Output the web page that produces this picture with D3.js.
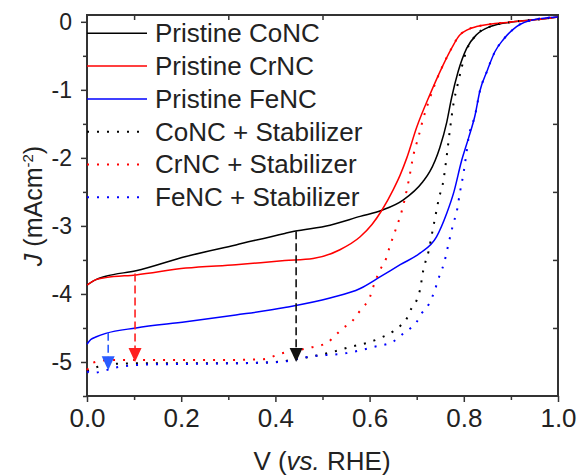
<!DOCTYPE html>
<html>
<head>
<meta charset="utf-8">
<script src="https://cdn.jsdelivr.net/npm/d3@7"></script>
<style>
  body { margin: 0; background: #fff; }
  svg text { font-family: "Liberation Sans", Arial, sans-serif; fill: #222; }
</style>
</head>
<body>
<div id="chart"></div>
<script>
// ---- data: [V vs RHE, J in mA cm^-2] ----
const pristineCoNC = [[0,-3.87],[0.019,-3.79],[0.04,-3.74],[0.104,-3.66],[0.21,-3.45],[0.316,-3.28],[0.42,-3.11],[0.44,-3.08],[0.516,-2.99],[0.58,-2.86],[0.626,-2.77],[0.671,-2.62],[0.713,-2.35],[0.728,-2.2],[0.749,-1.85],[0.764,-1.47],[0.774,-1.12],[0.788,-0.73],[0.806,-0.39],[0.827,-0.19],[0.856,-0.07],[0.905,0.0],[0.95,0.03],[1.0,0.07]];
const pristineCrNC = [[0,-3.87],[0.019,-3.79],[0.04,-3.76],[0.104,-3.72],[0.21,-3.62],[0.316,-3.57],[0.42,-3.51],[0.48,-3.48],[0.537,-3.35],[0.58,-3.16],[0.605,-2.98],[0.626,-2.77],[0.65,-2.47],[0.665,-2.25],[0.679,-2.0],[0.70,-1.55],[0.728,-1.07],[0.753,-0.68],[0.774,-0.39],[0.792,-0.19],[0.827,-0.07],[0.905,0.0],[0.95,0.03],[1.0,0.07]];
const pristineFeNC = [[0,-4.74],[0.008,-4.67],[0.02,-4.63],[0.04,-4.58],[0.104,-4.5],[0.21,-4.41],[0.316,-4.31],[0.42,-4.2],[0.516,-4.06],[0.58,-3.92],[0.622,-3.75],[0.665,-3.57],[0.707,-3.4],[0.742,-3.16],[0.764,-2.81],[0.779,-2.5],[0.795,-2.05],[0.81,-1.71],[0.824,-1.37],[0.834,-1.02],[0.849,-0.73],[0.866,-0.44],[0.884,-0.26],[0.912,-0.07],[0.948,0.03],[1.0,0.07]];
const stabCoNC = [[0,-5.13],[0.023,-5.07],[0.05,-5.03],[0.1,-5.02],[0.2,-5.02],[0.3,-5.02],[0.4,-5.0],[0.452,-4.95],[0.523,-4.85],[0.558,-4.78],[0.594,-4.72],[0.622,-4.65],[0.65,-4.55],[0.665,-4.47],[0.679,-4.36],[0.689,-4.21],[0.70,-4.09],[0.707,-3.94],[0.714,-3.65],[0.725,-3.38],[0.734,-3.06],[0.741,-2.81],[0.748,-2.57],[0.755,-2.4],[0.764,-1.96],[0.771,-1.56],[0.779,-1.17],[0.786,-0.95],[0.806,-0.42],[0.827,-0.19],[0.856,-0.07],[0.905,0.0],[0.95,0.03],[1.0,0.07]];
const stabCrNC = [[0,-5.12],[0.013,-5.01],[0.05,-4.97],[0.1,-4.97],[0.2,-4.97],[0.3,-4.97],[0.374,-4.96],[0.41,-4.88],[0.466,-4.8],[0.509,-4.72],[0.53,-4.59],[0.544,-4.5],[0.562,-4.41],[0.576,-4.28],[0.587,-4.19],[0.601,-4.04],[0.608,-3.89],[0.622,-3.65],[0.635,-3.48],[0.643,-3.3],[0.654,-3.08],[0.668,-2.79],[0.679,-2.47],[0.684,-2.3],[0.693,-1.96],[0.703,-1.71],[0.714,-1.42],[0.728,-1.12],[0.753,-0.68],[0.774,-0.39],[0.792,-0.19],[0.827,-0.07],[0.905,0.0],[0.95,0.03],[1.0,0.07]];
const stabFeNC = [[0,-5.14],[0.01,-5.16],[0.07,-5.07],[0.12,-5.04],[0.2,-5.03],[0.3,-5.02],[0.41,-5.0],[0.473,-4.92],[0.551,-4.87],[0.608,-4.78],[0.65,-4.7],[0.672,-4.58],[0.689,-4.49],[0.70,-4.41],[0.711,-4.28],[0.725,-4.16],[0.735,-4.01],[0.749,-3.72],[0.758,-3.55],[0.767,-3.28],[0.778,-2.96],[0.785,-2.79],[0.792,-2.5],[0.80,-2.2],[0.805,-1.96],[0.81,-1.71],[0.824,-1.37],[0.834,-1.02],[0.849,-0.73],[0.866,-0.44],[0.884,-0.26],[0.912,-0.07],[0.948,0.03],[1.0,0.07]];

const seriesNames = ["Pristine CoNC", "Pristine CrNC", "Pristine FeNC", "CoNC + Stabilizer", "CrNC + Stabilizer", "FeNC + Stabilizer"];
const seriesData = [pristineCoNC, pristineCrNC, pristineFeNC, stabCoNC, stabCrNC, stabFeNC];

// dashed arrows: drop in current at a given potential
const arrowV    = [0.045, 0.102, 0.444];
const arrowFrom = [-4.57, -3.70, -3.08];
const arrowTo   = [-5.12, -5.00, -5.00];

const xTicks = [0, 0.2, 0.4, 0.6, 0.8, 1.0];
const yTicks = [-5, -4, -3, -2, -1, 0];

// ---- layout ----
const W = 580, H = 475;
const M = {left: 87, right: 22, top: 15, bottom: 79};
const colors = ["#000000", "#ff0000", "#0000ff", "#000000", "#ff0000", "#0000ff"];
const arrowColors = ["#2a5cff", "#ff2020", "#111111"];
const FONT_FAMILY = '"Liberation Sans", Arial, sans-serif';

const svg = d3.select("#chart").append("svg")
  .attr("width", W).attr("height", H);

const x = d3.scaleLinear().domain([0, 1]).range([M.left, W - M.right]);
const y = d3.scaleLinear().domain([-5.5, 0.1]).range([H - M.bottom, M.top]);

// axes
const bottomY = y(-5.5), topY = y(0.1), leftX = x(0), rightX = x(1);

svg.append("g")
  .attr("transform", `translate(0,${bottomY})`)
  .call(d3.axisBottom(x).tickValues(xTicks).tickSize(6).tickPadding(7).tickFormat(d3.format(".1f")))
  .call(g => g.select(".domain").remove())
  .call(g => g.selectAll("text").style("font-size", "26px").style("font-family", FONT_FAMILY).attr("fill", "#222"));

svg.append("g")
  .attr("transform", `translate(0,${bottomY})`)
  .call(d3.axisBottom(x).tickValues([0.1, 0.3, 0.5, 0.7, 0.9]).tickSize(4).tickFormat(""))
  .call(g => g.select(".domain").remove());

svg.append("g")
  .attr("transform", `translate(${leftX},0)`)
  .call(d3.axisLeft(y).tickValues(yTicks).tickSize(6).tickPadding(9).tickFormat(d => String(d)))
  .call(g => g.select(".domain").remove())
  .call(g => g.selectAll("text").style("font-size", "23px").style("font-family", FONT_FAMILY).attr("fill", "#222"));

svg.append("g")
  .attr("transform", `translate(${leftX},0)`)
  .call(d3.axisLeft(y).tickValues([-5.5, -4.5, -3.5, -2.5, -1.5, -0.5]).tickSize(4).tickFormat(""))
  .call(g => g.select(".domain").remove());

// mirrored minor ticks on top and right (inward)
svg.append("g")
  .attr("transform", `translate(0,${topY})`)
  .call(d3.axisBottom(x).tickValues([0.1, 0.3, 0.5, 0.7, 0.9]).tickSize(5).tickFormat(""))
  .call(g => g.select(".domain").remove());

svg.append("g")
  .attr("transform", `translate(${rightX},0)`)
  .call(d3.axisLeft(y).tickValues([-4.5, -3.5, -2.5, -1.5, -0.5]).tickSize(5).tickFormat(""))
  .call(g => g.select(".domain").remove());

svg.selectAll(".tick line").attr("stroke", "#333").attr("stroke-width", 1.5);

svg.append("rect")
  .attr("x", leftX).attr("y", topY)
  .attr("width", rightX - leftX).attr("height", bottomY - topY)
  .attr("fill", "none").attr("stroke", "#333").attr("stroke-width", 2);

// curves
const line = d3.line()
  .x(d => x(d[0]))
  .y(d => y(d[1]))
  .curve(d3.curveMonotoneX);

svg.append("g").selectAll("path")
  .data(seriesData)
  .join("path")
  .attr("d", d => line(d))
  .attr("fill", "none")
  .attr("stroke", (d, i) => colors[i])
  .attr("stroke-width", (d, i) => i < 3 ? 1.5 : 2)
  .attr("stroke-dasharray", (d, i) => i < 3 ? null : "2,8");

// dashed arrows
const arrows = svg.append("g");
arrowV.forEach((v, i) => {
  const ax = x(v), y0 = y(arrowFrom[i]), y1 = y(arrowTo[i]);
  arrows.append("line")
    .attr("x1", ax).attr("x2", ax)
    .attr("y1", y0).attr("y2", y1 - 10)
    .attr("stroke", arrowColors[i]).attr("stroke-width", 1.6)
    .attr("stroke-dasharray", "8,4");
  arrows.append("path")
    .attr("d", `M${ax - 6.5},${y1 - 14} L${ax + 6.5},${y1 - 14} L${ax},${y1} Z`)
    .attr("fill", arrowColors[i]);
});

// legend
const legend = svg.append("g");
seriesNames.forEach((name, i) => {
  const ly = 33.3 + i * 32.8;
  legend.append("line")
    .attr("x1", leftX).attr("x2", 147)
    .attr("y1", ly).attr("y2", ly)
    .attr("stroke", colors[i])
    .attr("stroke-width", i < 3 ? 1.5 : 2)
    .attr("stroke-dasharray", i < 3 ? null : "2,8");
  legend.append("text")
    .attr("x", 155).attr("y", ly + 8.8)
    .style("font-size", "26px")
    .text(name);
});

// axis titles
const xt = svg.append("text")
  .attr("x", 322).attr("y", 470)
  .attr("text-anchor", "middle")
  .style("font-size", "26px");
xt.append("tspan").text("V (");
xt.append("tspan").style("font-style", "italic").text("vs.");
xt.append("tspan").text(" RHE)");

const yt = svg.append("text")
  .attr("transform", "translate(42,206) rotate(-90)")
  .attr("text-anchor", "middle")
  .style("font-size", "25px");
yt.append("tspan").style("font-style", "italic").text("J");
yt.append("tspan").text(" (mAcm");
yt.append("tspan").attr("dy", -9).style("font-size", "15px").text("-2");
yt.append("tspan").attr("dy", 9).text(")");
</script>
</body>
</html>
